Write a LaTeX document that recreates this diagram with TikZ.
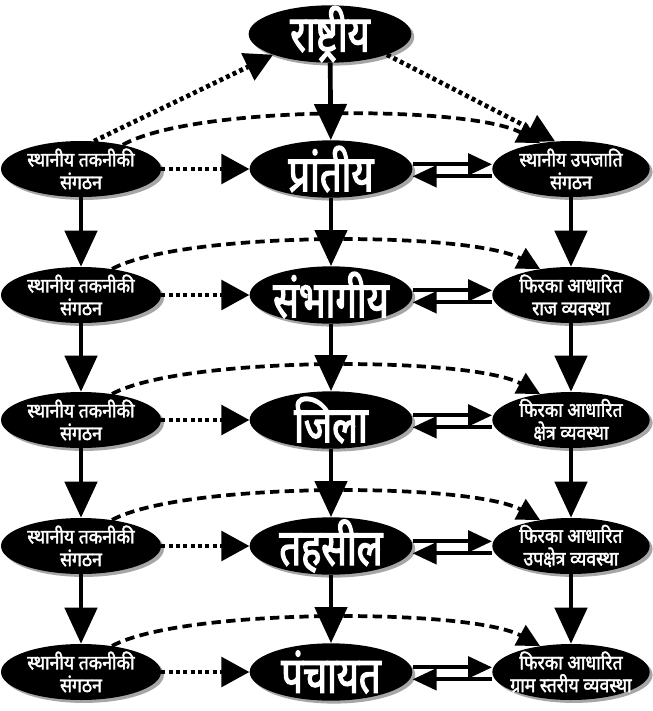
\documentclass[tikz,border=0pt]{standalone}
\usepackage{fontspec}
\newfontfamily\devabig[Script=Devanagari, FakeStretch=0.75, FakeBold=2.5]{Noto Sans}
\newfontfamily\devasmall[Script=Devanagari, FakeStretch=0.88, FakeBold=2]{Noto Sans}
\usetikzlibrary{arrows.meta, shapes.geometric, shadows}

\begin{document}
\begin{tikzpicture}[
        x=0.75pt,
        y=-0.75pt,
        box/.style={ellipse, fill=black, inner sep=0pt, minimum width=120pt, minimum height=42pt,
            drop shadow={shadow xshift=2.2pt, shadow yshift=-2.2pt, fill=black!35, opacity=1}},
        bigbox/.style={box, minimum width=122pt, minimum height=43pt},
        bigtext/.style={text=white, font=\devabig\fontsize{38}{38}\selectfont},
        smalltext/.style={text=white, align=center, font=\devasmall\fontsize{15}{17}\selectfont},
        solidarrow/.style={line width=3.5pt, -{Triangle[length=27pt, width=24pt]}},
        dotarrow/.style={line width=3.5pt, dash pattern=on 3pt off 2.5pt, -{Triangle[length=21pt, width=22pt]}},
        dasharrow/.style={line width=2.8pt, dash pattern=on 7pt off 4pt, -{Triangle[length=17pt, width=17pt]}},
        twoway/.style={line width=3pt, -{Triangle[length=18pt, width=16pt]}}
    ]
        \useasboundingbox (0,0) rectangle (653,711);

        \node[bigbox, label={[bigtext]center:राष्ट्रीय}] (nat) at (330,34) {};

        \foreach \i/\y/\m/\r in {1/169/प्रांतीय/{स्थानीय उपजाति\\संगठन},
                2/295/संभागीय/{फिरका आधारित\\राज व्यवस्था},
                3/420/जिला/{फिरका आधारित\\क्षेत्र व्यवस्था},
                4/546/तहसील/{फिरका आधारित\\उपक्षेत्र व्यवस्था},
                5/672/पंचायत/{फिरका आधारित\\ग्राम स्तरीय व्यवस्था}} {
            \node[box, label={[smalltext]center:स्थानीय तकनीकी\\संगठन}] (l\i) at (81,\y) {};
            \node[bigbox, label={[bigtext]center:\m}] (m\i) at (331,\y) {};
            \node[box, minimum width=118pt, label={[smalltext]center:\r}] (r\i) at (571,\y) {};
        }

        \draw[solidarrow] (nat) -- (m1);
        \foreach \i [count=\j from 2] in {1,...,4} {
            \draw[solidarrow] (l\i) -- (l\j);
            \draw[solidarrow] (m\i) -- (m\j);
            \draw[solidarrow] (r\i) -- (r\j);
        }

        \foreach \i in {1,...,5} {
            \draw[dotarrow] (l\i) -- (m\i);
            \draw[twoway] ([yshift=3.5pt]m\i.east) -- ([yshift=3.5pt]r\i.west);
            \draw[twoway] ([yshift=-5.5pt]r\i.west) -- ([yshift=-5.5pt]m\i.east);
        }

        \draw[dasharrow] (l1.30) .. controls +(70,-40) and +(-70,-38) .. (r1.140);
        \foreach \i in {2,...,5}
            \draw[dasharrow] (l\i.40) .. controls +(70,-38) and +(-70,-38) .. (r\i.140);

        \draw[dotarrow] (l1.65) -- (nat.200);
        \draw[dotarrow] (nat.-20) -- (r1.120);
    \end{tikzpicture}
\end{document}
